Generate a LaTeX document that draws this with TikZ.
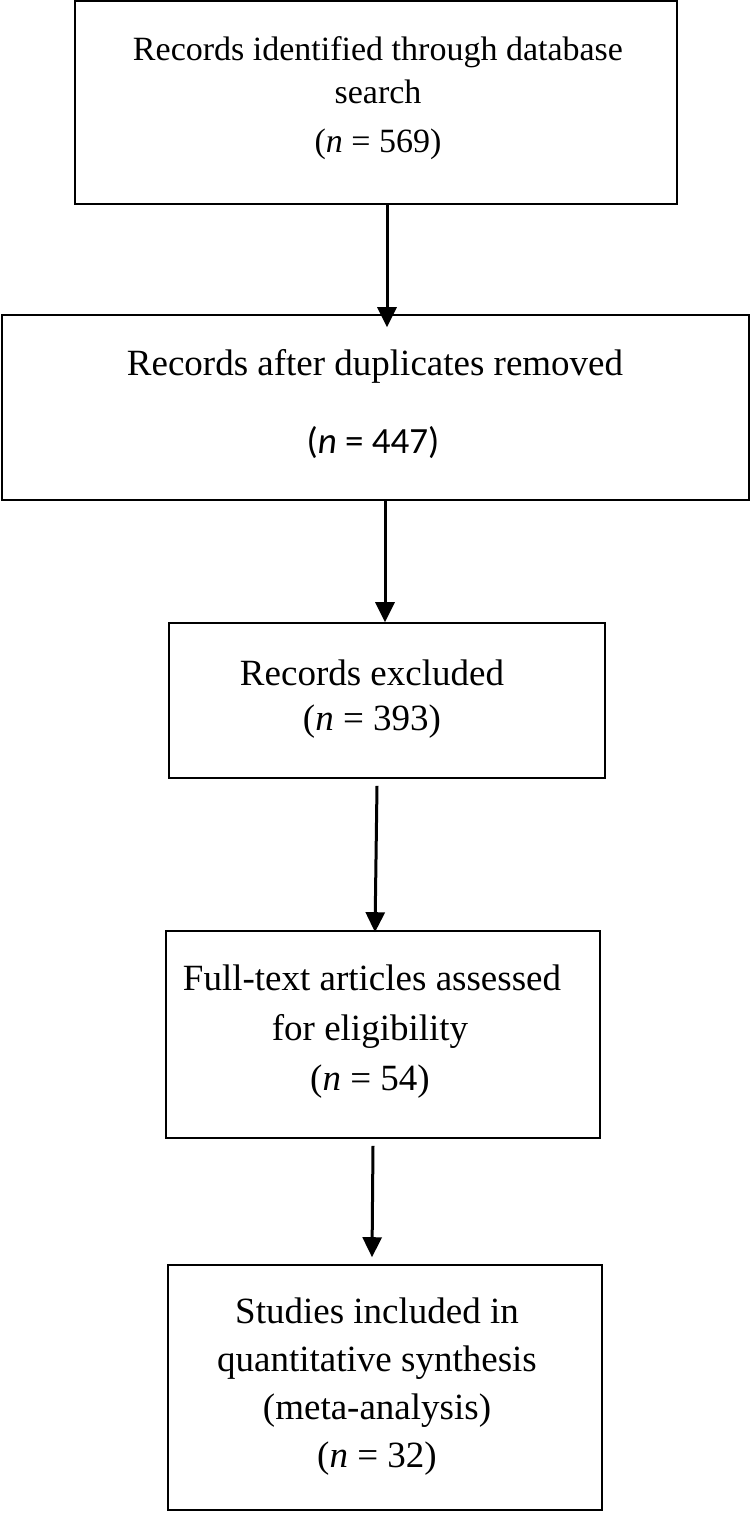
\documentclass[tikz,border=0pt]{standalone}
\usepackage{fontspec}
\setmainfont{Liberation Serif}
\newfontfamily\calfont{Carlito}
\usetikzlibrary{arrows.meta}
\begin{document}
\begin{tikzpicture}[x=1pt,y=-1pt,
  box/.style={draw=black, line width=1.6pt, inner sep=0pt, fill=none},
  txt/.style={inner sep=0pt, anchor=base, font=\fontsize{37}{44}\selectfont},
  txtA/.style={inner sep=0pt, anchor=base, font=\fontsize{34}{40}\selectfont},
  arr/.style={line width=3pt, -{Triangle[length=20pt,width=19pt]}}]
\useasboundingbox (0,0) rectangle (750,1513);
% boxes
\node[box, minimum width=602pt, minimum height=203pt] (b1) at (376,102.5) {};
\node[box, minimum width=747pt, minimum height=185pt] (b2) at (375.5,407.5) {};
\node[box, minimum width=436pt, minimum height=155pt] (b3) at (387,700.5) {};
\node[box, minimum width=434pt, minimum height=207pt] (b4) at (383,1034.5) {};
\node[box, minimum width=434pt, minimum height=245pt] (b5) at (385,1387.5) {};
% texts
\node[txtA] (t1a) at (378,60) {Records identified through database};
\node[txtA] (t1b) at (378,103) {search};
\node[txtA] (t1c) at (378,152) {(\textit{n} = 569)};
\node[txt] (t2a) at (375,375) {Records after duplicates removed};
\node[txt] (t2b) at (373,453) {\calfont(\textit{n} = 447)};
\node[txt] (t3a) at (372,685) {Records excluded};
\node[txt] (t3b) at (372,730) {(\textit{n} = 393)};
\node[txt] (t4a) at (372,990) {Full-text articles assessed};
\node[txt] (t4b) at (370,1040) {for eligibility};
\node[txt] (t4c) at (370,1090) {(\textit{n} = 54)};
\node[txt] (t5a) at (377,1323) {Studies included in};
\node[txt] (t5b) at (377,1371) {quantitative synthesis};
\node[txt] (t5c) at (377,1419) {(meta-analysis)};
\node[txt] (t5d) at (377,1467) {(\textit{n} = 32)};
% arrows
\draw[arr] ([xshift=11pt]b1.south) -- ([xshift=11.5pt,yshift=-13pt]b2.north);
\draw[arr] ([xshift=9.5pt]b2.south) -- ([xshift=-2pt]b3.north);
\draw[arr] ([xshift=-10pt,yshift=-7pt]b3.south) -- ([xshift=-8pt,yshift=-2pt]b4.north);
\draw[arr] ([xshift=-10pt,yshift=-7pt]b4.south) -- ([xshift=-13pt,yshift=7pt]b5.north);
\end{tikzpicture}
\end{document}
